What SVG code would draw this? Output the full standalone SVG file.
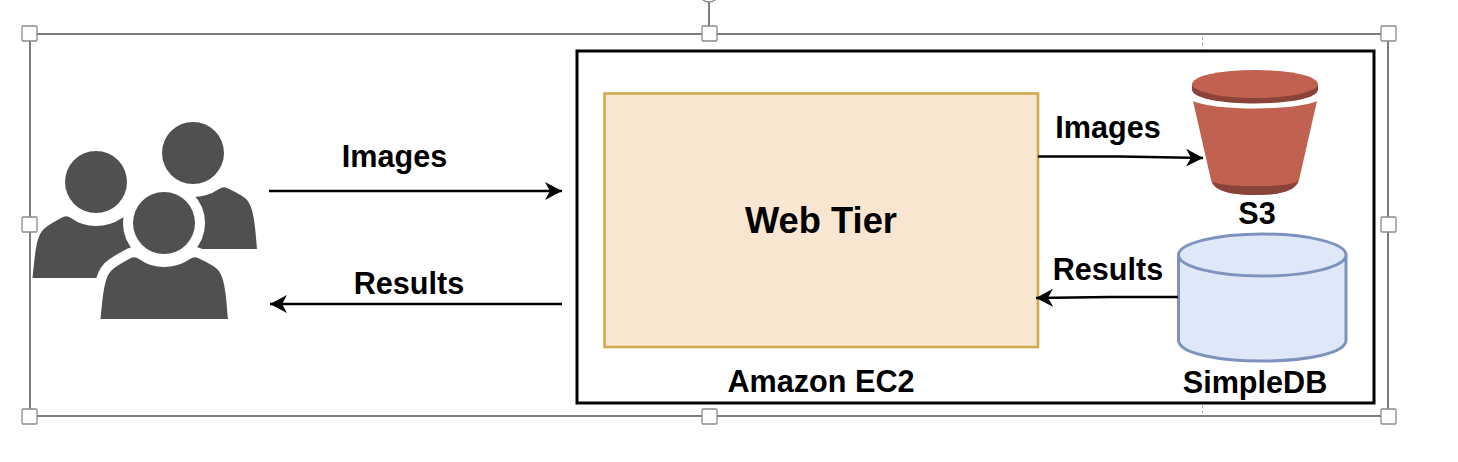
<svg xmlns="http://www.w3.org/2000/svg" width="1458" height="462" viewBox="0 0 1458 462">
<style>
.t{font-family:"Liberation Sans",Arial,sans-serif;font-weight:700;font-size:30.600px;fill:#000;text-anchor:middle}
.h{fill:#fff;stroke:#8a8a8a;stroke-width:1.3}
.s{fill:none;stroke:#5c5c5c;stroke-width:1.6}
.c{fill:none;stroke:#000;stroke-width:2.4}
.p{fill:#505050}
</style>
<defs>
<marker id="a" markerUnits="userSpaceOnUse" markerWidth="20" markerHeight="20" refX="17" refY="9" orient="auto"><path d="M0 0L17 9L0 18L5 9Z" fill="#000"/></marker>
<g id="person"><circle cx="164" cy="223" r="31"/><path d="M100.500 319C103 296 104 278 111 271Q114 267 131 258Q135 256 139 259Q150 267 164 267Q178 267 190 259Q194 256 198 258Q215 266 218 270C225 278 226 296 228 319Z"/></g>
</defs>
<g id="selection">
<rect class="s" x="30" y="34" width="1358" height="382"/>
<path class="s" d="M709 0V34"/>
<circle cx="709" cy="-8" r="10" class="h"/>
<path d="M1202.500 37V50M1202.500 405V413" stroke="#aaa" stroke-width="1" stroke-dasharray="3 3" fill="none"/>
<g id="handles">
<rect class="h" x="22" y="26" width="15" height="15" rx="1"/>
<rect class="h" x="702" y="26" width="15" height="15" rx="1"/>
<rect class="h" x="1381" y="26" width="15" height="15" rx="1"/>
<rect class="h" x="22" y="217" width="15" height="15" rx="1"/>
<rect class="h" x="1381" y="217" width="15" height="15" rx="1"/>
<rect class="h" x="22" y="409" width="15" height="15" rx="1"/>
<rect class="h" x="702" y="409" width="15" height="15" rx="1"/>
<rect class="h" x="1381" y="409" width="15" height="15" rx="1"/>
</g>
</g>
<g id="users">
<use href="#person" class="p" transform="translate(29 -70)"/>
<use href="#person" class="p" transform="translate(-68 -41)"/>
<use href="#person" fill="#fff" stroke="#fff" stroke-width="20"/>
<use href="#person" class="p"/>
</g>
<g id="ec2">
<rect x="577" y="51" width="797" height="352" fill="none" stroke="#000" stroke-width="3"/>
<text class="t" x="821" y="392">Amazon EC2</text>
</g>
<g id="web-tier">
<rect x="604.500" y="93.500" width="433.500" height="253.500" fill="#f8e6d1" stroke="#cfab50" stroke-width="2.600"/>
<text class="t" x="821" y="233" style="font-size:36.300px">Web Tier</text>
</g>
<g id="s3">
<path d="M1193 101C1215 111 1295 111 1317 101L1299 180Q1296 195 1255 195Q1214 195 1211 180Z" fill="#c1614f"/>
<path d="M1212 180Q1214 195 1255 195Q1296 195 1298 180Q1296 186 1255 186Q1214 186 1212 180Z" fill="#8a4339"/>
<path d="M1192 84V90C1195 108 1315 108 1318 90V84Z" fill="#8a4339"/>
<ellipse cx="1255" cy="84" rx="63" ry="14" fill="#c1614f"/>
<text class="t" x="1257" y="224">S3</text>
</g>
<g id="simpledb">
<path d="M1178.500 255V340C1178.500 368 1346 368 1346 340V255" fill="#dfe8f9" stroke="#7d93bf" stroke-width="3"/>
<ellipse cx="1262.250" cy="255" rx="83.750" ry="21" fill="#dfe8f9" stroke="#7d93bf" stroke-width="3"/>
<text class="t" x="1255" y="393">SimpleDB</text>
</g>
<g id="connectors">
<path class="c" d="M269 191H562" marker-end="url(#a)"/>
<path class="c" d="M562 304H270" marker-end="url(#a)"/>
<path class="c" d="M1038 156.500L1120 156.500L1203 158" marker-end="url(#a)"/>
<path class="c" d="M1178 297L1110 297L1036 298" marker-end="url(#a)"/>
<text class="t" x="394.500" y="167">Images</text>
<text class="t" x="409" y="294">Results</text>
<text class="t" x="1108" y="138">Images</text>
<text class="t" x="1108" y="280">Results</text>
</g>
</svg>
